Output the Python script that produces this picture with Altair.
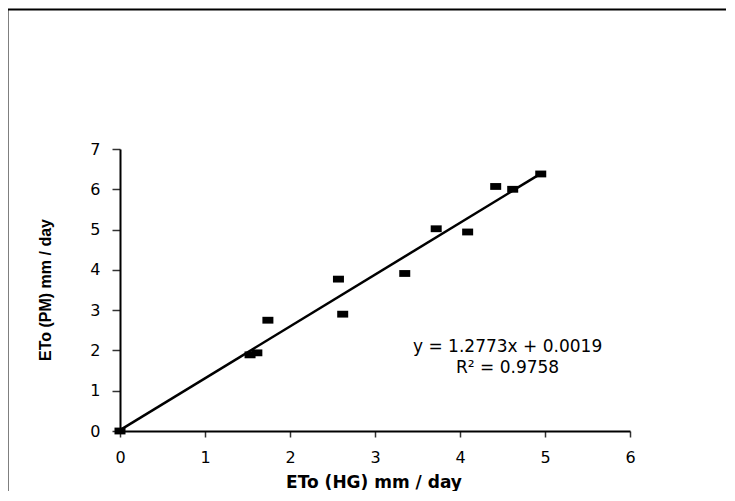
import altair as alt
import pandas as pd

# ---- data ----
eto_hg = [0.0, 1.53, 1.61, 1.74, 2.57, 2.62, 3.35, 3.72, 4.09, 4.42, 4.62, 4.95]
eto_pm = [0.0, 1.89, 1.94, 2.75, 3.77, 2.90, 3.91, 5.02, 4.94, 6.07, 6.00, 6.38]
x_ticks = [0, 1, 2, 3, 4, 5, 6]
y_ticks = [0, 1, 2, 3, 4, 5, 6, 7]
eq_lines = ["y = 1.2773x + 0.0019", "R² = 0.9758"]
eq_x = [4.56, 4.56]
eq_y = [2.09, 1.57]
x_title = "ETo (HG) mm / day"
y_title = "ETo (PM) mm / day"

W, H = 510, 282

df = pd.DataFrame({"hg": eto_hg, "pm": eto_pm})
eq_df = pd.DataFrame({"hg": eq_x, "pm": eq_y, "t": eq_lines})

xscale = alt.Scale(domain=[0, 6], nice=False, zero=True)
yscale = alt.Scale(domain=[0, 7], nice=False, zero=True)

common = dict(grid=False, title=None, format="d", labelFlush=False, labelOverlap=False,
              labelFont="DejaVu Sans", labelFontSize=16, labelColor="black",
              domainColor="black", domainWidth=2, tickColor="#333333", tickWidth=1.5)
xaxis = alt.Axis(values=x_ticks, tickSize=6, labelPadding=12, **common)
yaxis = alt.Axis(values=y_ticks, tickSize=8, labelPadding=12, **common)

base = alt.Chart(df)

points = base.mark_point(
    shape="M-1,-0.62H1V0.62H-1Z", size=121, filled=True, color="black", opacity=1
).encode(
    x=alt.X("hg:Q", scale=xscale, axis=xaxis),
    y=alt.Y("pm:Q", scale=yscale, axis=yaxis),
)

trend = base.transform_regression("hg", "pm", method="linear").mark_line(
    color="black", strokeWidth=2.5
).encode(
    x=alt.X("hg:Q", scale=xscale),
    y=alt.Y("pm:Q", scale=yscale),
)

eq = alt.Chart(eq_df).mark_text(
    font="DejaVu Sans", fontSize=17, color="black", align="center", baseline="middle"
).encode(
    x=alt.X("hg:Q", scale=xscale),
    y=alt.Y("pm:Q", scale=yscale),
    text="t:N",
)

xt = alt.Chart(pd.DataFrame({"t": [x_title]})).mark_text(
    font="DejaVu Sans", fontSize=17, fontWeight="bold", color="black",
    align="center", baseline="middle"
).encode(text="t:N", x=alt.value(254), y=alt.value(334))

yt = alt.Chart(pd.DataFrame({"t": [y_title]})).mark_text(
    font="Liberation Sans", fontSize=16, fontWeight="bold", color="black",
    align="center", baseline="middle", angle=270
).encode(text="t:N", x=alt.value(-74), y=alt.value(141))

frame = alt.Chart(pd.DataFrame({"a": [0]})).mark_rect(
    filled=False, stroke="black", strokeWidth=2
).encode(x=alt.value(-112.5), x2=alt.value(W + 300), y=alt.value(-139.5), y2=alt.value(H + 300))

chart = alt.layer(frame, trend, points, eq, xt, yt).properties(
    width=W, height=H,
    autosize=alt.AutoSizeParams(type="none"),
    padding={"left": 112, "top": 141, "right": 96, "bottom": 60},
    background="white",
).configure_view(stroke=None)

chart.save("out.html", embed_options={"renderer": "svg", "actions": False})
